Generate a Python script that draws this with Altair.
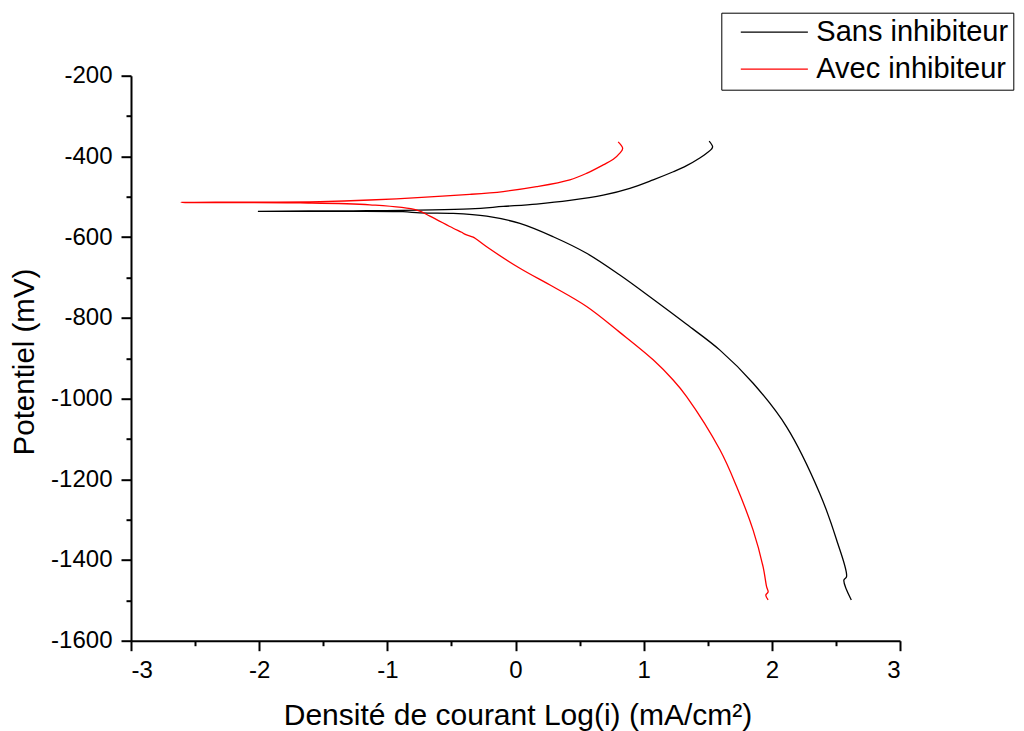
import altair as alt
import pandas as pd

# "Sans inhibiteur" (black) : cathodic branch from bottom up to Ecorr, then anodic branch
sans_x = [2.62, 2.562, 2.583, 2.505, 2.374, 2.115, 1.854, 1.595, 1.335, 1.074, 0.814,
          0.555, 0.294, 0.034, -0.225, -0.486, -0.746, -0.878, -1.3, -2.01,
          -1.29, -0.356, -0.096, 0.164, 0.424, 0.684, 0.892, 1.074, 1.231, 1.335,
          1.438, 1.491, 1.529, 1.538, 1.511]
sans_y = [-1499, -1450, -1441, -1350, -1235, -1070, -962, -880, -816, -754, -694,
          -640, -599, -566, -548, -541, -540, -537, -536, -536,
          -535, -530, -524, -518, -509, -496, -479, -458, -438, -423,
          -404, -392, -382, -376, -362]

# "Avec inhibiteur" (red)
avec_x = [1.971, 1.953, 1.971, 1.959, 1.932, 1.854, 1.725, 1.595, 1.335, 1.23, 1.074, 0.814,
          0.555, 0.294, 0.034, -0.225, -0.31, -0.33, -0.40, -0.42, -0.486, -0.668, -0.769,
          -1.136, -1.68, -2.61,
          -1.526, -1.136, -0.356, -0.096, 0.164, 0.424, 0.554, 0.684, 0.763, 0.814,
          0.836, 0.801]
avec_y = [-1499, -1487, -1479, -1466, -1417, -1326, -1218, -1127, -995, -954, -904, -836,
          -772, -723, -677, -624, -604, -600, -592, -588, -578, -548, -533,
          -520, -515, -514,
          -512, -508, -494, -487, -475, -458, -442, -421, -407, -392,
          -380, -364]

series = ["Sans inhibiteur", "Avec inhibiteur"]
colors = ["#000000", "#ff0000"]

x_major = [-3, -2, -1, 0, 1, 2, 3]
x_minor = [-2.5, -1.5, -0.5, 0.5, 1.5, 2.5]
y_major = [-1600, -1400, -1200, -1000, -800, -600, -400, -200]
y_minor = [-1500, -1300, -1100, -900, -700, -500, -300]

rows = []
for i, (a, b) in enumerate(zip(sans_x, sans_y)):
    rows.append({"s": series[0], "x": a, "y": b, "i": i})
for i, (a, b) in enumerate(zip(avec_x, avec_y)):
    rows.append({"s": series[1], "x": a, "y": b, "i": i})
df = pd.DataFrame(rows)

FONT = "Liberation Sans"
xscale = alt.Scale(domain=[-3, 3], nice=False, zero=False)
yscale = alt.Scale(domain=[-1600, -200], nice=False, zero=False)

main = alt.Chart(df).mark_line(strokeWidth=1.3, interpolate="catmull-rom").encode(
    x=alt.X("x:Q", scale=xscale, axis=alt.Axis(
        orient="bottom", values=x_major, labelExpr="'' + datum.value",
        grid=False, domainColor="black", domainWidth=2, tickColor="black", tickWidth=2,
        tickSize=10, labelPadding=8, labelFont=FONT, labelFontSize=24, labelColor="black",
        title="Densité de courant Log(i) (mA/cm²)", titleFont=FONT, titleFontSize=30,
        titleFontWeight="normal", titleColor="black", titleBaseline="alphabetic",
        titleAlign="center", titleX=386.5, titleY=84)),
    y=alt.Y("y:Q", scale=yscale, axis=alt.Axis(
        orient="left", values=y_major, labelExpr="'' + datum.value",
        grid=False, domainColor="black", domainWidth=2, tickColor="black", tickWidth=2,
        tickSize=10, labelPadding=9, labelFont=FONT, labelFontSize=24, labelColor="black",
        title="Potentiel (mV)", titleFont=FONT, titleFontSize=29.5, titleFontWeight="normal",
        titleColor="black", titleBaseline="alphabetic", titleAlign="center",
        titleAngle=270, titleX=-97.7, titleY=285.8)),
    color=alt.Color("s:N", scale=alt.Scale(domain=series, range=colors),
                    sort=series,
                    legend=alt.Legend(title=None, orient="none", legendX=590.3, legendY=-63,
                                      strokeColor="black", fillColor="white",
                                      padding=5, rowPadding=7, symbolType="M0,0H10",
                                      symbolSize=180, symbolStrokeWidth=1.3,
                                      labelFont=FONT, labelFontSize=29, labelColor="black",
                                      labelOffset=61, labelLimit=400)),
    order="i:Q",
    detail="s:N",
)

minor = alt.Chart(df).mark_line(opacity=0).encode(
    x=alt.X("x:Q", scale=xscale, axis=alt.Axis(
        orient="bottom", values=x_minor, labels=False, domain=False, grid=False,
        tickColor="black", tickWidth=2, tickSize=5, title=None)),
    y=alt.Y("y:Q", scale=yscale, axis=alt.Axis(
        orient="left", values=y_minor, labels=False, domain=False, grid=False,
        tickColor="black", tickWidth=2, tickSize=5, title=None)),
    detail="s:N",
    order="i:Q",
)

chart = alt.layer(main, minor).resolve_axis(x="independent", y="independent").properties(
    width=769, height=565,
    background="white",
    autosize=alt.AutoSizeParams(type="none"),
    padding={"left": 123, "top": 67.7, "right": 116, "bottom": 90.3},
).configure_view(strokeWidth=0).configure_legend(strokeWidth=1)

chart.save("out.html", embed_options={"renderer": "svg", "actions": False})
